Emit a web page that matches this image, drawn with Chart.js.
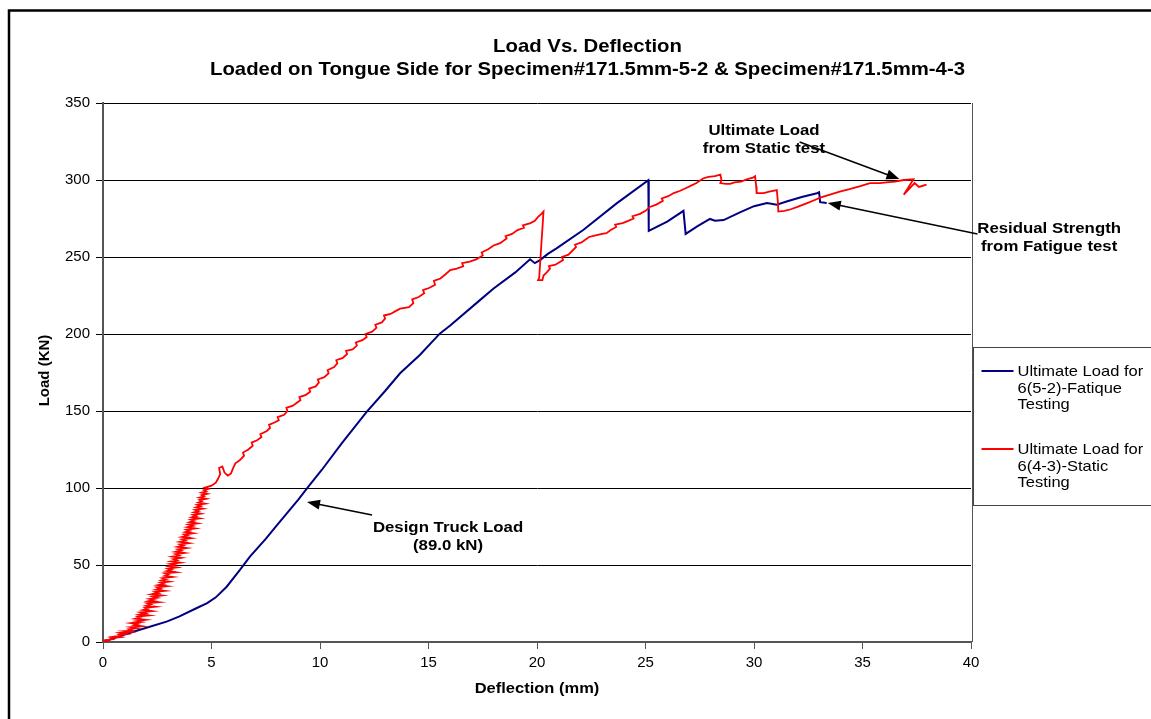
<!DOCTYPE html>
<html>
<head>
<meta charset="utf-8">
<script src="https://cdn.jsdelivr.net/npm/chart.js@4.4.1/dist/chart.umd.min.js"></script>
<style>
  html, body { margin: 0; padding: 0; overflow: hidden; background: #fff; }
  canvas { display: block; }
</style>
</head>
<body>
<canvas id="loadChart" width="1175" height="730"></canvas>
<script>
// titoli e etichette
const titleLines = ['Load Vs. Deflection', 'Loaded on Tongue Side for Specimen#171.5mm-5-2 & Specimen#171.5mm-4-3'];
const xTitle = 'Deflection (mm)';
const yTitle = 'Load (KN)';
const fatigueLabel = ['Ultimate Load for', '6(5-2)-Fatique', 'Testing'];
const staticLabel = ['Ultimate Load for', '6(4-3)-Static', 'Testing'];

// serie 1: prova a fatica (deflessione mm, carico kN)
const fatiguePts = [
  [0,0],[0.5,2.5],[1,4.8],[1.4,6.7],[2,9.2],[2.93,13.2],[3.5,16.5],[4.3,21.9],[4.8,25.2],
  [5.2,29],[5.7,35.9],[6.31,46.8],[6.77,55.4],[7.5,67],[8,75.5],[8.5,84],[9,92.5],[9.5,101.5],
  [10.08,111.7],[11,129],[12.15,149.5],[13,163],[13.69,174.5],[14.6,186.4],[15.53,200.4],[16,205.5],
  [17.37,222],[18,229.5],[19,240],[19.68,248.5],[19.9,246],[20.14,248],[20.5,252],[20.9,255.6],
  [22.13,267.5],[23.67,284.8],[25.13,299.8],[25.15,267],[26.0,273],[26.75,280],[26.85,265],
  [27.4,270],[27.97,274.7],[28.2,273.5],[28.6,274],[29.35,279],[30,283],[30.6,285],[31.05,284],
  [31.5,286],[32.2,289],[32.9,291.4],[33.0,292],[33.05,285.6],[33.35,285]
];

// serie 2: prova statica (deflessione mm, carico kN)
const staticPts = [
  [0,0],[0.2,0.8],[0.1,1.2],[0.45,1.8],[0.35,2.6],[0.7,3.0],[0.5,3.4],[0.85,4.1],[0.75,4.8],[1.05,5.2],
  [0.8,5.9],[1.25,6.5],[1.0,7.1],[1.35,7.4],[1.2,8.3],[1.55,8.9],[1.3,9.6],
  [1.8,10.2],[1.45,10.9],[1.6,11.6],[1.3,12.3],[1.75,13.0],[1.55,13.6],[1.95,14.4],[1.5,15.1],[1.7,15.8],[1.6,16.5],
  [2.1,17.2],[1.7,17.9],[1.95,18.6],[1.75,19.3],[2.25,20.0],[1.85,20.8],[2.05,21.5],[1.95,22.2],[2.4,22.9],[2.0,23.6],
  [2.2,24.4],[2.05,25.1],[2.55,25.8],[2.1,26.5],[2.35,27.3],[2.15,28.0],[2.5,28.7],[2.3,29.5],[2.7,30.2],[2.25,31.0],
  [2.55,31.7],[2.4,32.5],[2.85,33.2],[2.45,34.0],[2.65,34.7],[2.5,35.5],[2.95,36.2],[2.55,37.0],[2.8,37.7],[2.65,38.5],
  [3.05,39.2],[2.7,40.0],[2.9,40.8],[2.75,41.5],[3.2,42.3],[2.85,43.0],[3.0,43.8],[2.85,44.6],[3.35,45.3],[2.95,46.1],
  [3.15,46.9],[3.0,47.6],[3.4,48.4],[3.05,49.2],[3.3,50.0],[3.1,50.7],[3.55,51.5],[3.15,52.3],[3.4,53.0],[3.25,53.8],
  [3.6,54.6],[3.2,55.4],[3.5,56.2],[3.35,57.0],[3.75,57.8],[3.35,58.6],[3.6,59.4],[3.45,60.2],[3.85,61.0],[3.45,61.8],
  [3.7,62.6],[3.55,63.4],[3.95,64.2],[3.55,65.0],[3.8,65.8],[3.65,66.6],[4.05,67.4],[3.65,68.2],[3.9,69.0],[3.75,69.8],
  [4.15,70.6],[3.8,71.4],[4.0,72.2],[3.85,73.0],[4.25,73.8],[3.9,74.6],[4.15,75.4],[3.95,76.2],[4.35,77.0],[4.0,77.8],
  [4.2,78.6],[4.05,79.4],[4.45,80.2],[4.1,81.0],[4.3,81.8],[4.15,82.6],[4.5,83.4],[4.2,84.2],[4.4,85.0],[4.25,85.8],
  [4.6,86.6],[4.3,87.4],[4.5,88.2],[4.35,89.0],[4.7,89.8],[4.4,90.6],[4.55,91.4],[4.45,92.2],[4.75,93.0],[4.45,93.8],
  [4.65,94.6],[4.55,95.4],[4.8,96.2],[4.55,97.0],[4.75,97.8],[4.65,98.6],[4.85,99.4],[4.7,100.2],[5.0,101.5],[5.2,103.5],
  [5.3,106],[5.4,109],[5.35,113],[5.5,114],[5.6,110],[5.75,108],[5.9,109.5],[6.0,113],[6.1,116],[6.3,118],
  [6.5,121],[6.45,123],[6.7,125],[6.9,127.5],[6.85,129.5],[7.1,131],[7.3,133],[7.25,135],[7.55,137],[7.7,139],
  [7.65,141],[7.9,142.5],[8.1,144],[8.05,146],[8.35,147.5],[8.5,150],[8.45,152],[8.75,153.5],[8.95,155.5],[9.1,157],
  [9.05,159],[9.35,160.5],[9.55,162.5],[9.5,164.5],[9.8,166],[9.95,168.5],[9.9,170.5],[10.2,172],[10.4,174.5],[10.35,176.5],
  [10.65,178.5],[10.8,181],[10.75,183],[11.05,184.5],[11.25,187],[11.2,189],[11.5,190],[11.7,192.5],[11.65,194.5],[11.95,196],
  [12.15,198],[12.1,200],[12.4,201.5],[12.6,204],[12.55,206],[12.85,207.5],[13.0,210],[12.95,212],[13.25,213],[13.5,215],
  [13.7,216.5],[14.1,217.5],[14.3,220],[14.25,222.5],[14.55,224],[14.8,226.5],[14.75,228.5],[15.05,230],[15.3,232],[15.25,234.5],
  [15.55,236],[15.8,239],[16.0,241.5],[16.3,242.5],[16.6,244],[16.55,246],[16.9,247],[17.2,248.5],[17.5,251],[17.45,253],
  [17.75,255],[18.0,257.5],[18.3,259],[18.6,262],[18.55,263.5],[18.85,265],[19.1,267.5],[19.4,269],[19.35,270.5],[19.7,272],
  [19.9,273.5],[20.05,276],[20.2,278],[20.3,279.5],
  [20.1,236.5],[20.05,235],[20.25,235],[20.3,238],[20.45,240],[20.6,242.5],[20.55,244],[20.85,245],[21.2,248],[21.15,250],
  [21.45,251.5],[21.8,256.5],[21.75,258],[22.05,259.5],[22.4,263],[22.7,264],[23.0,265],[23.2,265.5],[23.4,267.5],[23.65,269.5],
  [23.6,271],[23.95,272],[24.2,273.5],[24.45,275],[24.4,276.5],[24.75,278],[25.0,280],[25.2,282.5],[25.5,284],[25.8,286.5],
  [25.75,288],[26.05,289.5],[26.3,291.5],[26.6,293],[26.9,295],[27.05,296],[27.35,298],[27.65,301],[27.9,302],[28.2,302.5],
  [28.45,303.5],[28.5,300],[28.45,298],[28.7,297.5],[28.9,297.5],[29.1,298.5],[29.4,299],[29.7,300.5],[29.95,301.5],[30.05,302.5],
  [30.1,296],[30.12,291.5],[30.45,291.5],[30.7,292.5],[31.05,293.5],[31.1,286],[31.12,279.5],[31.4,280],[31.7,281],[32.0,282.5],
  [32.45,285],[32.8,287],[33.05,288.5],[33.5,290.5],[33.95,292.5],[34.4,294],[34.9,296],[35.35,298],[35.8,298],[36.1,298.5],
  [36.5,299],[36.9,300],[37.35,300.5],[36.9,290.5],[37.4,298],[37.6,295.5],[37.95,297]
];

// note con freccia (posizioni in unità dati)
const notes = [
  { lines: ['Ultimate Load', 'from Static test'], tx: 30.46, ty: 326, from: [32.1, 324.7], to: [36.7, 300.6] },
  { lines: ['Residual Strength', 'from Fatigue test'], tx: 43.6, ty: 262.3, from: [40.3, 264.9], to: [33.4, 285.1] },
  { lines: ['Design Truck Load', '(89.0 kN)'], tx: 15.9, ty: 68.5, from: [12.4, 82.5], to: [9.4, 90.9] }
];

const FONT = '"Liberation Sans", Arial, sans-serif';
const ctx = document.getElementById('loadChart').getContext('2d');

// testo allargato in orizzontale (l'originale è stirato)
function wideText(c, t, x, y, sx) {
  c.save();
  c.translate(x, y);
  c.scale(sx, 1);
  c.fillText(t, 0, 0);
  c.restore();
}

function arrow(c, x1, y1, x2, y2) {
  const ang = Math.atan2(y2 - y1, x2 - x1);
  const hl = 13, hw = 5;
  c.beginPath();
  c.moveTo(x1, y1);
  c.lineTo(x2 - Math.cos(ang) * hl * 0.8, y2 - Math.sin(ang) * hl * 0.8);
  c.stroke();
  c.beginPath();
  c.moveTo(x2, y2);
  c.lineTo(x2 - Math.cos(ang) * hl - Math.sin(ang) * hw, y2 - Math.sin(ang) * hl + Math.cos(ang) * hw);
  c.lineTo(x2 - Math.cos(ang) * hl + Math.sin(ang) * hw, y2 - Math.sin(ang) * hl - Math.cos(ang) * hw);
  c.closePath();
  c.fill();
}

// cornice, titoli, legenda e note disegnati a mano
const extras = {
  id: 'extras',
  beforeDraw(chart) {
    const c = chart.ctx;
    c.save();
    c.fillStyle = '#fff';
    c.fillRect(0, 0, chart.width, chart.height);
    c.strokeStyle = '#000';
    c.lineWidth = 2.5;
    c.strokeRect(9, 10.5, chart.width + 50, chart.height + 50);
    c.restore();
  },
  afterDraw(chart) {
    const c = chart.ctx;
    const xs = chart.scales.x, ys = chart.scales.y;
    const area = chart.chartArea;
    c.save();
    // bordo destro area grafico
    c.strokeStyle = '#555';
    c.lineWidth = 1;
    c.beginPath();
    c.moveTo(area.right + 1.5, area.top);
    c.lineTo(area.right + 1.5, area.bottom);
    c.stroke();

    // titolo
    c.fillStyle = '#000';
    c.textAlign = 'center';
    c.textBaseline = 'middle';
    c.font = 'bold 18.5px ' + FONT;
    wideText(c, titleLines[0], chart.width / 2, 47, 1.1);
    wideText(c, titleLines[1], chart.width / 2, 70, 1.1);

    // titoli assi
    c.font = 'bold 15px ' + FONT;
    wideText(c, xTitle, (area.left + area.right) / 2, 689, 1.1);
    c.save();
    c.translate(45, (area.top + area.bottom) / 2 - 2);
    c.rotate(-Math.PI / 2);
    c.fillText(yTitle, 0, 0);
    c.restore();

    // legenda
    const lx = area.right + 2.5, ly = 347.5;
    c.fillStyle = '#fff';
    c.fillRect(lx, ly, 300, 158);
    c.strokeStyle = '#444';
    c.lineWidth = 1;
    c.strokeRect(lx, ly, 300, 158);
    c.font = '15px ' + FONT;
    c.textAlign = 'left';
    c.fillStyle = '#000';
    [[fatigueLabel, '#000080', 371], [staticLabel, '#ff0000', 449]].forEach(([txt, col, y0]) => {
      c.strokeStyle = col;
      c.lineWidth = 2;
      c.beginPath();
      c.moveTo(lx + 8, y0);
      c.lineTo(lx + 40, y0);
      c.stroke();
      txt.forEach((t, i) => wideText(c, t, lx + 44, y0 + 1 + i * 16.5, 1.1));
    });

    // note
    c.font = 'bold 15px ' + FONT;
    c.textAlign = 'center';
    c.strokeStyle = '#000';
    c.fillStyle = '#000';
    c.lineWidth = 1.5;
    notes.forEach(n => {
      const tx = xs.getPixelForValue(n.tx), ty = ys.getPixelForValue(n.ty);
      wideText(c, n.lines[0], tx, ty - 9, 1.12);
      wideText(c, n.lines[1], tx, ty + 9, 1.12);
      arrow(c, xs.getPixelForValue(n.from[0]), ys.getPixelForValue(n.from[1]),
               xs.getPixelForValue(n.to[0]), ys.getPixelForValue(n.to[1]));
    });
    c.restore();
  }
};

const chart = new Chart(ctx, {
  type: 'scatter',
  data: {
    datasets: [{
      label: fatigueLabel.join(' '),
      data: fatiguePts.map(p => ({ x: p[0], y: p[1] })),
      showLine: true,
      borderColor: '#000080',
      borderWidth: 2,
      pointRadius: 0,
      tension: 0,
      order: 1
    }, {
      label: staticLabel.join(' '),
      data: staticPts.map(p => ({ x: p[0], y: p[1] })),
      showLine: true,
      borderColor: '#ff0000',
      borderWidth: 1.8,
      pointRadius: 0,
      tension: 0,
      order: 0
    }]
  },
  options: {
    responsive: false,
    animation: false,
    devicePixelRatio: 1,
    layout: { padding: { left: 0, top: 103, right: 204, bottom: 0 } },
    plugins: {
      legend: { display: false },
      title: { display: false },
      tooltip: { enabled: false }
    },
    scales: {
      x: {
        type: 'linear',
        min: 0,
        max: 40,
        ticks: { stepSize: 5, color: '#000', padding: 5, font: { family: FONT, size: 15 } },
        grid: { drawOnChartArea: false, tickLength: 7, color: '#555' },
        border: { color: '#555', width: 2 },
        afterFit: s => { s.height = 88; }
      },
      y: {
        min: 0,
        max: 350,
        ticks: { stepSize: 50, color: '#000', padding: 6, font: { family: FONT, size: 15 } },
        grid: { color: '#000', tickLength: 7, lineWidth: 1 },
        border: { color: '#555', width: 2 },
        afterFit: s => { s.width = 103; }
      }
    }
  },
  plugins: [extras]
});
</script>
</body>
</html>
